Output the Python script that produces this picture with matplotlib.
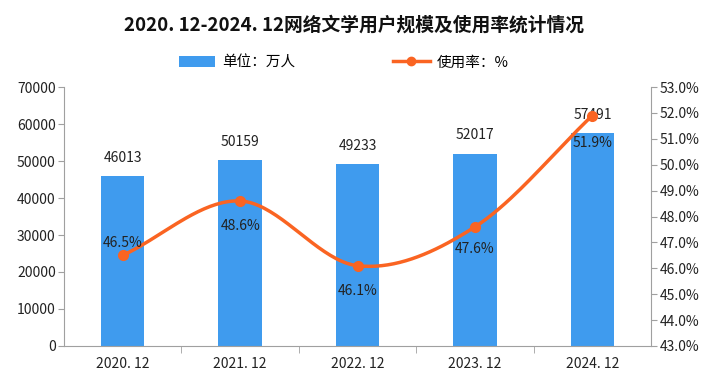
import numpy as np
import matplotlib
matplotlib.use("Agg")
import matplotlib.pyplot as plt
from matplotlib.lines import Line2D
from matplotlib.patches import Patch

plt.rcParams['font.family'] = ['Noto Sans CJK SC', 'DejaVu Sans']

categories = ["2020. 12", "2021. 12", "2022. 12", "2023. 12", "2024. 12"]
users = [46013, 50159, 49233, 52017, 57491]
rate = [46.5, 48.6, 46.1, 47.6, 51.9]
rate_labels = ["46.5%", "48.6%", "46.1%", "47.6%", "51.9%"]
rate_label_offsets = [9, -18, -18, -16, -20]

bar_color = "#3F9BEE"
line_color = "#FA6422"
axis_color = "#A0A0A0"
text_color = "#222222"

fig = plt.figure(figsize=(7.09, 3.79), dpi=100)
ax = fig.add_axes([0.0903, 0.0871, 0.828, 0.6833])
ax2 = ax.twinx()

x = np.arange(len(categories))
ax.bar(x, users, width=0.37, color=bar_color, zorder=2)
ax.set_xlim(-0.5, len(categories) - 0.5)
ax.set_ylim(0, 70000)
ax.set_yticks(np.arange(0, 70001, 10000))
ax.set_yticklabels([str(v) for v in range(0, 70001, 10000)], fontsize=10, color=text_color)
ax.set_xticks(x)
ax.set_xticklabels(categories, fontsize=10, color=text_color)
ax.set_xticks(np.arange(0.5, len(categories) - 0.5, 1), minor=True)
ax.tick_params(axis='x', which='major', length=0, pad=8)
ax.tick_params(axis='x', which='minor', length=5, color=axis_color)
ax.tick_params(axis='y', length=4, color=axis_color, pad=2)

for xi, v in zip(x, users):
    ax.annotate(str(v), (xi, v), xytext=(0, 8), textcoords='offset points',
                ha='center', va='bottom', fontsize=10, color=text_color)

# Catmull-Rom smoothing
def catmull_rom(xs, ys, n=40):
    xs = np.asarray(xs, float); ys = np.asarray(ys, float)
    px = np.concatenate([[2*xs[0]-xs[1]], xs, [2*xs[-1]-xs[-2]]])
    py = np.concatenate([[2*ys[0]-ys[1]], ys, [2*ys[-1]-ys[-2]]])
    outx, outy = [], []
    for i in range(1, len(px) - 2):
        t = np.linspace(0, 1, n)
        p0, p1, p2, p3 = [np.array([px[j], py[j]]) for j in (i-1, i, i+1, i+2)]
        m1 = (p2 - p0) / 2
        m2 = (p3 - p1) / 2
        h00 = 2*t**3 - 3*t**2 + 1
        h10 = t**3 - 2*t**2 + t
        h01 = -2*t**3 + 3*t**2
        h11 = t**3 - t**2
        pts = np.outer(h00, p1) + np.outer(h10, m1) + np.outer(h01, p2) + np.outer(h11, m2)
        outx.extend(pts[:, 0]); outy.extend(pts[:, 1])
    return np.array(outx), np.array(outy)

sx, sy = catmull_rom(x, rate)
ax2.plot(sx, sy, color=line_color, lw=2.5, zorder=3)
ax2.plot(x, rate, 'o', color=line_color, ms=7, zorder=4)
ax2.set_ylim(43, 53)
ax2.set_yticks(np.arange(43, 53.01, 1))
ax2.set_yticklabels([f"{v:.1f}%" for v in np.arange(43, 53.01, 1)], fontsize=10, color=text_color)
ax2.tick_params(axis='y', length=4, color=axis_color, pad=2)

for xi, v, lab, off in zip(x, rate, rate_labels, rate_label_offsets):
    ax2.annotate(lab, (xi, v), xytext=(0, off), textcoords='offset points',
                 ha='center', va='center', fontsize=10, color=text_color, zorder=5)

for a in (ax, ax2):
    a.spines['top'].set_visible(False)
    for s in ('left', 'right', 'bottom'):
        a.spines[s].set_color(axis_color)
ax.spines['right'].set_visible(False)
ax2.spines['left'].set_visible(False)
ax2.spines['bottom'].set_visible(False)

fig.text(0.5, 0.935, "2020. 12-2024. 12网络文学用户规模及使用率统计情况",
         ha='center', va='center', fontsize=13.5, fontweight='bold', color='#111111')

handles = [Patch(facecolor=bar_color, label="单位：万人"),
           Line2D([0], [0], color=line_color, lw=2.5, marker='o', ms=6, label="使用率：%")]
fig.legend(handles=handles, loc='center left', bbox_to_anchor=(0.252, 0.835), ncol=2,
           frameon=False, fontsize=10.5, handlelength=2.5, columnspacing=6.7,
           handletextpad=0.5, borderaxespad=0, borderpad=0)

fig.savefig("out.png", dpi=100)
